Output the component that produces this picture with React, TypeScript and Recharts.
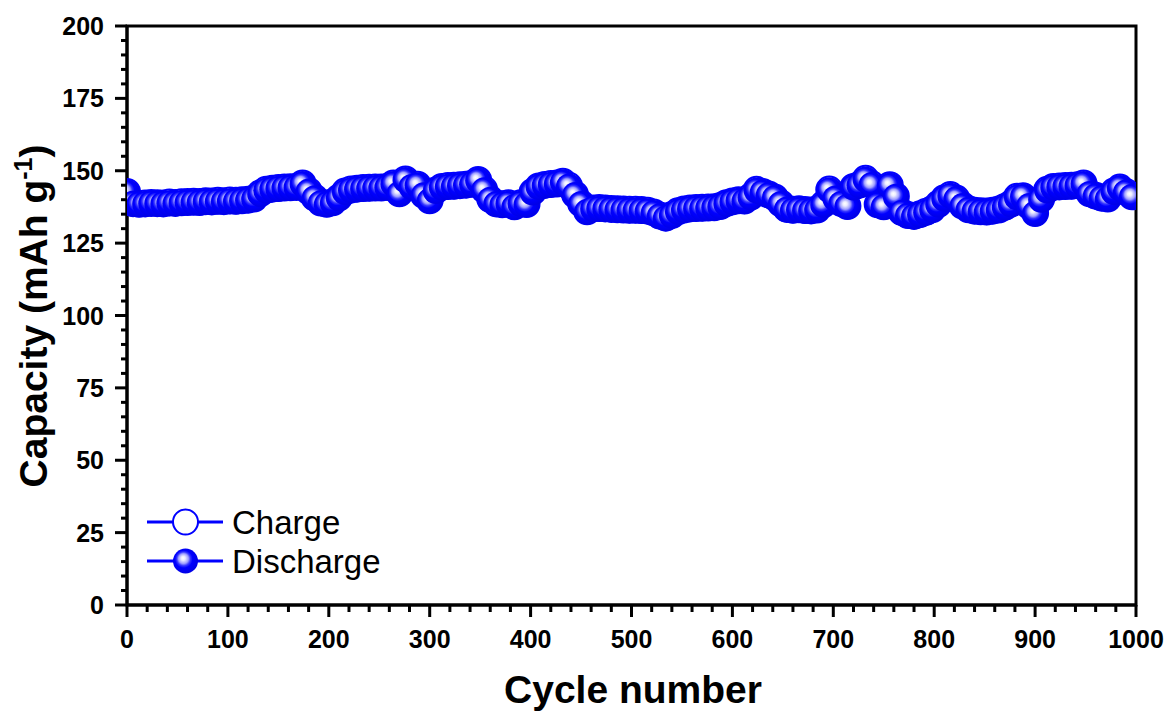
import React from "react";
import { ComposedChart, Line, XAxis, YAxis, ReferenceArea } from "recharts";

// cycle number of each plotted point
const CYCLES = [
  0, 6, 12, 18, 24, 30, 36, 42, 48, 54,
  60, 66, 72, 78, 84, 90, 96, 102, 108, 114,
  120, 126, 132, 138, 144, 150, 156, 162, 168, 174,
  180, 186, 192, 198, 204, 210, 216, 222, 228, 234,
  240, 246, 252, 258, 264, 270, 276, 282, 288, 294,
  300, 306, 312, 318, 324, 330, 336, 342, 348, 354,
  360, 366, 372, 378, 384, 390, 396, 402, 408, 414,
  420, 426, 432, 438, 444, 450, 456, 462, 468, 474,
  480, 486, 492, 498, 504, 510, 516, 522, 528, 534,
  540, 546, 552, 558, 564, 570, 576, 582, 588, 594,
  600, 606, 612, 618, 624, 630, 636, 642, 648, 654,
  660, 666, 672, 678, 684, 690, 696, 702, 708, 714,
  720, 726, 732, 738, 744, 750, 756, 762, 768, 774,
  780, 786, 792, 798, 804, 810, 816, 822, 828, 834,
  840, 846, 852, 858, 864, 870, 876, 882, 888, 894,
  900, 906, 912, 918, 924, 930, 936, 942, 948, 954,
  960, 966, 972, 978, 984, 990, 996,
];

const DISCHARGE = [
  142.5, 138.6, 138.4, 138.5, 138.7, 138.6, 138.5, 138.8, 138.7, 138.9,
  139.0, 139.1, 139.0, 139.3, 139.2, 139.4, 139.3, 139.5, 139.4, 139.6,
  139.8, 140.2, 142.0, 143.2, 143.6, 143.8, 144.0, 144.1, 144.2, 145.4,
  142.8, 140.5, 138.8, 138.4, 138.9, 140.5, 142.6, 143.3, 143.6, 143.8,
  143.9, 144.0, 144.0, 144.2, 145.4, 142.0, 146.8, 144.4, 145.0, 141.5,
  139.6, 143.0, 144.2, 144.5, 144.6, 144.8, 145.0, 145.3, 146.6, 143.3,
  140.0, 138.5, 138.2, 138.6, 137.5, 138.6, 138.3, 142.5, 144.4, 144.9,
  145.2, 145.4, 146.0, 144.6, 141.6, 138.5, 135.8, 136.8, 136.9, 136.8,
  136.6, 136.5, 136.4, 136.3, 136.3, 136.2, 136.0, 135.4, 134.3, 133.6,
  134.5, 135.8, 136.4, 136.8, 136.9, 137.0, 137.1, 137.2, 137.6, 138.6,
  139.2, 139.6, 139.5, 140.8, 143.2, 142.5, 141.6, 140.6, 138.5, 136.6,
  136.3, 136.5, 136.2, 136.1, 136.4, 138.2, 143.3, 140.4, 138.6, 137.6,
  144.2, 145.0, 147.0, 145.1, 138.2, 137.5, 144.8, 141.0, 135.5, 134.5,
  134.2, 134.8, 135.6, 136.5, 138.3, 140.3, 141.4, 140.2, 137.8, 136.5,
  136.0, 135.8, 135.7, 136.0, 136.4, 137.3, 138.4, 140.8, 141.0, 137.8,
  135.2, 140.0, 143.2, 144.2, 144.4, 144.5, 144.6, 144.8, 145.4, 142.0,
  141.2, 140.5, 140.2, 142.6, 144.0, 142.5, 141.0,
];

const CHARGE = [
  142.7, 138.8, 138.6, 138.7, 138.9, 138.8, 138.7, 139.0, 138.9, 139.1,
  139.2, 139.3, 139.2, 139.5, 139.4, 139.6, 139.5, 139.7, 139.6, 139.8,
  140.0, 140.4, 142.2, 143.4, 143.8, 144.0, 144.2, 144.3, 144.4, 145.6,
  143.0, 140.7, 139.0, 138.6, 139.1, 140.7, 142.8, 143.5, 143.8, 144.0,
  144.1, 144.2, 144.2, 144.4, 145.6, 142.2, 147.0, 144.6, 145.2, 141.7,
  139.8, 143.2, 144.4, 144.7, 144.8, 145.0, 145.2, 145.5, 146.8, 143.5,
  140.2, 138.7, 138.4, 138.8, 137.7, 138.8, 138.5, 142.7, 144.6, 145.1,
  145.4, 145.6, 146.2, 144.8, 141.8, 138.7, 136.0, 137.0, 137.1, 137.0,
  136.8, 136.7, 136.6, 136.5, 136.5, 136.4, 136.2, 135.6, 134.5, 133.8,
  134.7, 136.0, 136.6, 137.0, 137.1, 137.2, 137.3, 137.4, 137.8, 138.8,
  139.4, 139.8, 139.7, 141.0, 143.4, 142.7, 141.8, 140.8, 138.7, 136.8,
  136.5, 136.7, 136.4, 136.3, 136.6, 138.4, 143.5, 140.6, 138.8, 137.8,
  144.4, 145.2, 147.2, 145.3, 138.4, 137.7, 145.0, 141.2, 135.7, 134.7,
  134.4, 135.0, 135.8, 136.7, 138.5, 140.5, 141.6, 140.4, 138.0, 136.7,
  136.2, 136.0, 135.9, 136.2, 136.6, 137.5, 138.6, 141.0, 141.2, 138.0,
  135.4, 140.2, 143.4, 144.4, 144.6, 144.7, 144.8, 145.0, 145.6, 142.2,
  141.4, 140.7, 140.4, 142.8, 144.2, 142.7, 141.2,
];

const X_TICKS = [
  0, 20, 40, 60, 80, 100, 120, 140, 160, 180, 200, 220, 240, 260, 280, 300,
  320, 340, 360, 380, 400, 420, 440, 460, 480, 500, 520, 540, 560, 580, 600,
  620, 640, 660, 680, 700, 720, 740, 760, 780, 800, 820, 840, 860, 880, 900,
  920, 940, 960, 980, 1000,
];
const X_LABELED = [0, 100, 200, 300, 400, 500, 600, 700, 800, 900, 1000];

const Y_TICKS = [
  0, 5, 10, 15, 20, 25, 30, 35, 40, 45, 50, 55, 60, 65, 70, 75, 80, 85, 90,
  95, 100, 105, 110, 115, 120, 125, 130, 135, 140, 145, 150, 155, 160, 165,
  170, 175, 180, 185, 190, 195, 200,
];
const Y_LABELED = [0, 25, 50, 75, 100, 125, 150, 175, 200];

const BLUE = "#0000ff";
const FONT = "'Liberation Sans', Arial, sans-serif";
const MARKER_R = 13;

const data = CYCLES.map((c, i) => ({ cycle: c, charge: CHARGE[i], discharge: DISCHARGE[i] }));

function renderXTick(props: any) {
  const { x, y, payload, index } = props;
  const major = X_LABELED.includes(payload.value);
  return (
    <g key={`xt-${index}`}>
      <line x1={x} y1={y} x2={x} y2={y + (major ? 12 : 7)} stroke="#000" strokeWidth={3} />
      {major && (
        <text x={x} y={y + 43} textAnchor="middle" fontFamily={FONT} fontWeight="bold" fontSize={25} fill="#000">
          {payload.value}
        </text>
      )}
    </g>
  );
}

function renderYTick(props: any) {
  const { x, y, payload, index } = props;
  const major = Y_LABELED.includes(payload.value);
  return (
    <g key={`yt-${index}`}>
      <line x1={x} y1={y} x2={x - (major ? 12 : 6)} y2={y} stroke="#000" strokeWidth={3} />
      {major && (
        <text x={x - 23} y={y} dy="0.36em" textAnchor="end" fontFamily={FONT} fontWeight="bold" fontSize={25} fill="#000">
          {payload.value}
        </text>
      )}
    </g>
  );
}

const chargeDot = (props: any) => {
  const { cx, cy, index } = props;
  if (cx == null || cy == null) return <g key={`c-${index}`} />;
  return <circle key={`c-${index}`} cx={cx} cy={cy} r={MARKER_R} fill="#fff" stroke={BLUE} strokeWidth={2} />;
};

const dischargeDot = (props: any) => {
  const { cx, cy, index } = props;
  if (cx == null || cy == null) return <g key={`d-${index}`} />;
  return <circle key={`d-${index}`} cx={cx} cy={cy} r={MARKER_R} fill="url(#sphere)" />;
};

function SphereGradient({ id }: { id: string }) {
  return (
    <radialGradient id={id} cx="0.45" cy="0.45" r="0.55" fx="0.4" fy="0.38">
      <stop offset="0" stopColor="#ffffff" />
      <stop offset="0.15" stopColor="#ececff" />
      <stop offset="0.36" stopColor="#a0a0ff" />
      <stop offset="0.5" stopColor="#3535ff" />
      <stop offset="0.64" stopColor="#0000ff" />
      <stop offset="1" stopColor="#0000e6" />
    </radialGradient>
  );
}

export default function App() {
  return (
    <div style={{ position: "absolute", left: 0, top: 0, width: 1171, height: 715, background: "#fff" }}>
      <ComposedChart
        width={1171}
        height={715}
        data={data}
        margin={{ top: 26, right: 35, bottom: 80, left: 67 }}
      >
        <defs>
          <SphereGradient id="sphere" />
        </defs>
        <XAxis
          dataKey="cycle"
          type="number"
          domain={[0, 1000]}
          ticks={X_TICKS}
          interval={0}
          height={30}
          tickSize={0}
          tickMargin={0}
          tickLine={false}
          tick={renderXTick}
          axisLine={{ stroke: "#000", strokeWidth: 3 }}
          allowDataOverflow
        />
        <YAxis
          type="number"
          domain={[0, 200]}
          ticks={Y_TICKS}
          interval={0}
          width={60}
          tickSize={0}
          tickMargin={0}
          tickLine={false}
          tick={renderYTick}
          axisLine={{ stroke: "#000", strokeWidth: 3 }}
          allowDataOverflow
        />
        <Line
          dataKey="charge"
          stroke={BLUE}
          strokeWidth={2}
          dot={chargeDot}
          activeDot={false}
          isAnimationActive={false}
        />
        <Line
          dataKey="discharge"
          stroke={BLUE}
          strokeWidth={2}
          dot={dischargeDot}
          activeDot={false}
          isAnimationActive={false}
        />
        <ReferenceArea x1={0} x2={1000} y1={0} y2={200} fill="none" stroke="#000" strokeWidth={3} />
      </ComposedChart>

      <svg width={1171} height={715} style={{ position: "absolute", left: 0, top: 0, pointerEvents: "none" }}>
        <defs>
          <SphereGradient id="sphereLegend" />
        </defs>
        <text
          x={47}
          y={316}
          transform="rotate(-90 47 316)"
          textAnchor="middle"
          fontFamily={FONT}
          fontWeight="bold"
          fontSize={39}
          fill="#000"
        >
          Capacity (mAh g
          <tspan fontSize={25} dy={-15}>-1</tspan>
          <tspan dy={15}>)</tspan>
        </text>
        <text x={633} y={703} textAnchor="middle" fontFamily={FONT} fontWeight="bold" fontSize={39} fill="#000">
          Cycle number
        </text>

        <line x1={147} y1={522} x2={223} y2={522} stroke={BLUE} strokeWidth={3} />
        <circle cx={185.5} cy={522} r={12.5} fill="#fff" stroke={BLUE} strokeWidth={2} />
        <text x={232} y={534} fontFamily={FONT} fontSize={33} fill="#000">Charge</text>

        <line x1={147} y1={561} x2={223} y2={561} stroke={BLUE} strokeWidth={3} />
        <circle cx={185.5} cy={561} r={12.5} fill="url(#sphereLegend)" />
        <text x={232} y={573} fontFamily={FONT} fontSize={33} fill="#000">Discharge</text>
      </svg>
    </div>
  );
}
